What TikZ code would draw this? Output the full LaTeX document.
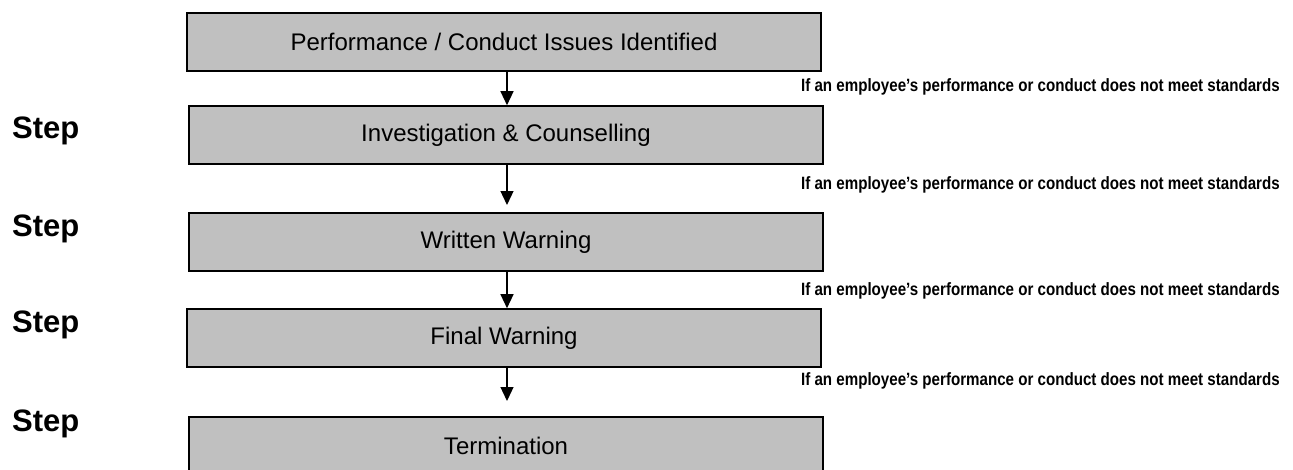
\documentclass[tikz,border=0pt]{standalone}
\usepackage{graphicx}
\usepackage{fontspec}
\setmainfont{Liberation Sans}
\usetikzlibrary{arrows.meta}
\definecolor{boxgray}{HTML}{C0C0C0}
\newcommand{\condtext}{\scalebox{0.85}[1]{If an employee’s performance or conduct does not meet standards}}
\begin{document}
\begin{tikzpicture}[x=1pt,y=-1pt,
  stagebox/.style={draw=black,fill=boxgray,line width=1.6pt,rectangle,inner sep=0pt,
    minimum width=634pt,minimum height=58pt,font=\fontsize{24}{27}\selectfont},
  steplabel/.style={anchor=west,inner sep=0pt,font=\fontsize{31}{34}\selectfont\bfseries},
  condlabel/.style={anchor=east,inner sep=0pt,font=\fontsize{17.8}{20}\selectfont\bfseries},
  flow/.style={line width=1.3pt,-{Triangle[length=14pt,width=13pt]}}]
\useasboundingbox (0,0) rectangle (1293,469);
\clip (0,0) rectangle (1293,469);
\node[stagebox] (b1) at (504,42) {Performance / Conduct Issues Identified};
\node[stagebox] (b2) at (506,135) {Investigation \& Counselling};
\node[stagebox] (b3) at (506,242) {Written Warning};
\node[stagebox] (b4) at (504,338) {Final Warning};
\node[stagebox] (b5) at (506,446) {Termination};
\coordinate (t2) at (507,205);
\coordinate (t4) at (507,401);
\draw[flow] (b1.south -| t2) -- (b2.north -| t2);
\draw[flow] (b2.south -| t2) -- (t2);
\draw[flow] (b3.south -| t2) -- (b4.north -| t2);
\draw[flow] (b4.south -| t4) -- (t4);
\node[condlabel] (c1) at (1280,87) {\condtext};
\node[condlabel] (c2) at (1280,185) {\condtext};
\node[condlabel] (c3) at (1280,291) {\condtext};
\node[condlabel] (c4) at (1280,381) {\condtext};
\node[steplabel] (s1) at (12,131) {Step};
\node[steplabel] (s2) at (12,229) {Step};
\node[steplabel] (s3) at (12,325) {Step};
\node[steplabel] (s4) at (12,424) {Step};
\end{tikzpicture}
\end{document}
